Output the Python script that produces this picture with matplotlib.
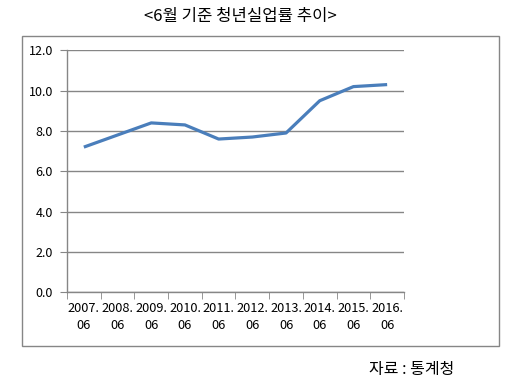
import matplotlib
matplotlib.use("Agg")
import matplotlib.pyplot as plt
from matplotlib.patches import Rectangle

plt.rcParams['font.family'] = ['Noto Sans CJK KR', 'DejaVu Sans']

# 6월 기준 청년실업률 (%)
years = ['2007.', '2008.', '2009.', '2010.', '2011.', '2012.', '2013.', '2014.', '2015.', '2016.']
months = ['06'] * 10
rates = [7.2, 7.8, 8.4, 8.3, 7.6, 7.7, 7.9, 9.5, 10.2, 10.3]
yticks = [0, 2, 4, 6, 8, 10, 12]

labels = [y + '\n' + m for y, m in zip(years, months)]
gray = '#868686'

fig = plt.figure(figsize=(5.25, 3.82), dpi=100)
fig.patch.set_facecolor('white')

# chart area border
fig.patches.append(Rectangle((0.0419, 0.0942), 0.9086, 0.8116, transform=fig.transFigure,
                             fill=False, edgecolor=gray, linewidth=1.0))

ax = fig.add_axes([0.1276, 0.2348, 0.6419, 0.6335])
x = range(len(rates))
ax.plot(x, rates, color='#4A7EBB', linewidth=2.3, solid_capstyle='butt')

ax.set_xlim(-0.5, len(rates) - 0.5)
ax.set_ylim(0, 12)
ax.set_yticks(yticks)
ax.set_yticklabels(['%.1f' % v for v in yticks], fontsize=9)
ax.set_xticks(list(x))
ax.set_xticklabels(labels, fontsize=9.2, linespacing=1.4)
ax.set_xticks([i - 0.5 for i in range(len(rates) + 1)], minor=True)
ax.tick_params(axis='x', which='major', length=0, pad=7)
ax.tick_params(axis='x', which='minor', length=5, color=gray, direction='out')
ax.tick_params(axis='y', length=5, color=gray, direction='out', pad=5)
ax.grid(axis='y', color=gray, linewidth=1.0)
ax.set_axisbelow(True)
for s in ['top', 'right']:
    ax.spines[s].set_visible(False)
for s in ['left', 'bottom']:
    ax.spines[s].set_color(gray)
    ax.spines[s].set_linewidth(1.0)

fig.text(0.457, 0.958, '<6월 기준 청년실업률 추이>', fontsize=12, ha='center', va='center')
fig.text(0.785, 0.032, '자료 : 통계청', fontsize=11.5, ha='center', va='center')

fig.savefig('out.png', dpi=100)
